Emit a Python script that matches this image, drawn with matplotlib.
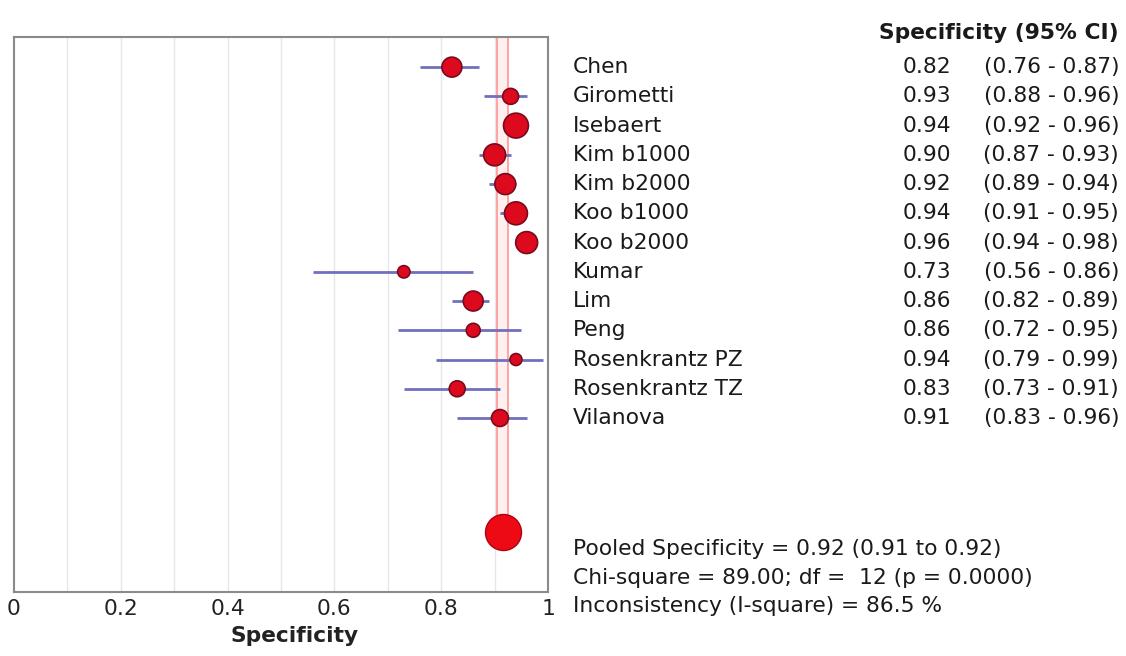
import matplotlib
matplotlib.use("Agg")
import matplotlib.pyplot as plt
import matplotlib.transforms as mtransforms
import numpy as np

plt.rcParams['font.family'] = ['DejaVu Sans']

studies = ["Chen", "Girometti", "Isebaert", "Kim b1000", "Kim b2000", "Koo b1000",
           "Koo b2000", "Kumar", "Lim", "Peng", "Rosenkrantz PZ", "Rosenkrantz TZ",
           "Vilanova"]
spec = [0.82, 0.93, 0.94, 0.90, 0.92, 0.94, 0.96, 0.73, 0.86, 0.86, 0.94, 0.83, 0.91]
ci_low = [0.76, 0.88, 0.92, 0.87, 0.89, 0.91, 0.94, 0.56, 0.82, 0.72, 0.79, 0.73, 0.83]
ci_high = [0.87, 0.96, 0.96, 0.93, 0.94, 0.95, 0.98, 0.86, 0.89, 0.95, 0.99, 0.91, 0.96]
weights = [8.6, 5.5, 13.4, 10.4, 9.5, 11.4, 10.4, 3.3, 8.6, 4.2, 3.1, 5.5, 6.2]

pooled = 0.916
pooled_low = 0.905
pooled_high = 0.926
pooled_text = "Pooled Specificity = 0.92 (0.91 to 0.92)"
chi_text = "Chi-square = 89.00; df =  12 (p = 0.0000)"
i2_text = "Inconsistency (I-square) = 86.5 %"

fig = plt.figure(figsize=(11.26, 6.56), dpi=100)
ax = fig.add_axes([14 / 1126, 1 - 592 / 656, 534 / 1126, 555 / 656])

y = np.arange(len(studies))
pooled_y = 15.9

ax.set_xlim(0, 1)
ax.set_ylim(17.95, -1.03)

# light grid every 0.1
for gx in np.arange(0.1, 1.0, 0.1):
    ax.axvline(gx, color="#e6e6ee", lw=1, zorder=0)

# pooled CI lines
ax.vlines([pooled_low, pooled_high], -1.03, pooled_y, color="#ff8c8c", lw=1.1, zorder=1)
ax.axvspan(pooled_low, pooled_high, ymin=1 - (pooled_y + 1.03) / 18.98, ymax=1,
           color="#fff0f0", zorder=0.5, lw=0)

ax.hlines(y, ci_low, ci_high, color="#7070bc", lw=2, zorder=2)

diam = 6.8 * np.sqrt(np.array(weights))  # pixels
sizes = (diam * 0.72) ** 2
ax.scatter(spec, y, s=sizes, color="#dd0a1e", edgecolor="#7a0a1e", lw=1.2, zorder=3)
ax.scatter([pooled], [pooled_y], s=(36 * 0.72) ** 2, color="#ee0a14",
           edgecolor="#b00010", lw=1, zorder=3)

fs = 15.7
ax.set_yticks([])
ax.set_xticks([0, 0.2, 0.4, 0.6, 0.8, 1.0])
ax.set_xticklabels(["0", "0.2", "0.4", "0.6", "0.8", "1"])
ax.tick_params(axis="x", length=0, labelsize=fs, pad=5, colors="#222222")
for s in ax.spines.values():
    s.set_color("#8a8a8a")
    s.set_linewidth(1.5)
ax.set_xlabel("Specificity", fontsize=fs, fontweight="bold", color="#222222")
ax.xaxis.set_label_coords(0.526, -0.062, transform=ax.transAxes)
ax.xaxis.label.set_va("top")

# right-hand text table
tr = mtransforms.blended_transform_factory(fig.transFigure, ax.transData)
for i, name in enumerate(studies):
    ax.text(573 / 1126, i, name, transform=tr, fontsize=fs, va="center", ha="left",
            color="#1a1a1a", clip_on=False)
    ax.text(951 / 1126, i, f"{spec[i]:.2f}", transform=tr, fontsize=fs, va="center",
            ha="right", color="#1a1a1a", clip_on=False)
    ax.text(1119 / 1126, i, f"({ci_low[i]:.2f} - {ci_high[i]:.2f})", transform=tr,
            fontsize=fs, va="center", ha="right", color="#1a1a1a", clip_on=False)

fig.text(1119 / 1126, 1 - 33 / 656, "Specificity (95% CI)", fontsize=fs,
         fontweight="bold", ha="right", va="center", color="#1a1a1a")
fig.text(573 / 1126, 1 - 549 / 656, pooled_text, fontsize=fs, ha="left", va="center",
         color="#1a1a1a")
fig.text(573 / 1126, 1 - 578 / 656, chi_text, fontsize=fs, ha="left", va="center",
         color="#1a1a1a")
fig.text(573 / 1126, 1 - 606 / 656, i2_text, fontsize=fs, ha="left", va="center",
         color="#1a1a1a")

fig.savefig("out.png", dpi=100)
